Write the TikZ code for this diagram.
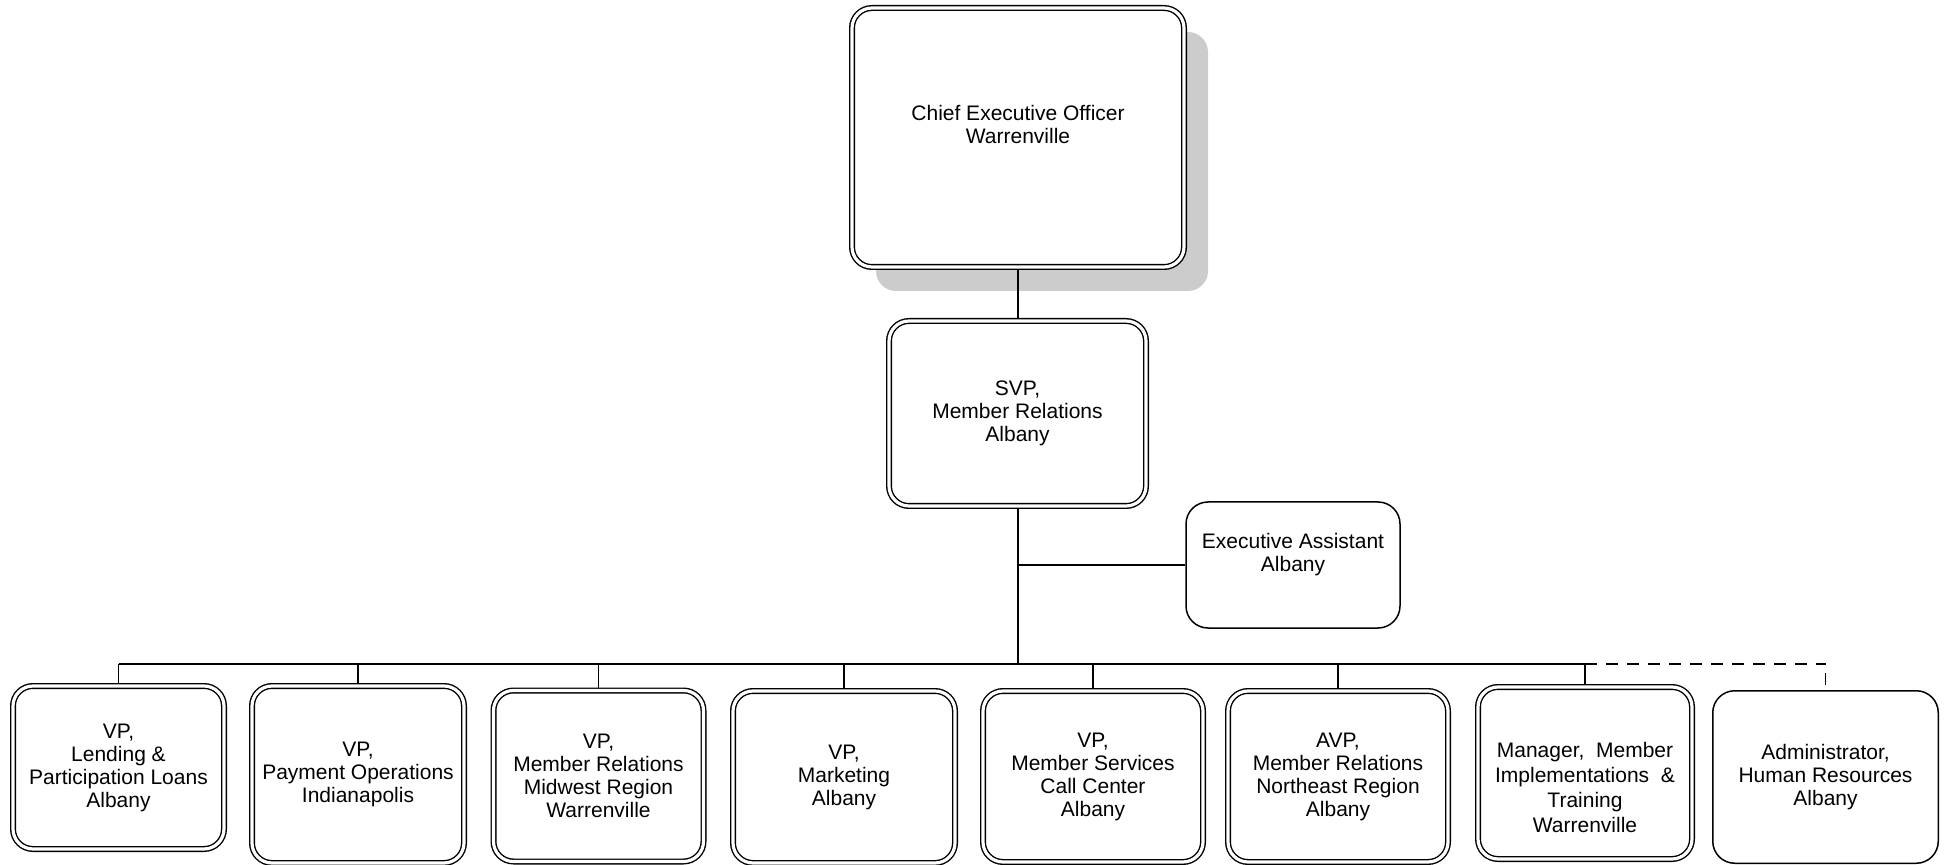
\documentclass[tikz,border=0pt]{standalone}
\usepackage{fontspec}
\setmainfont{Liberation Sans}
\usetikzlibrary{shadows}
\tikzstyle{officer} = [rectangle, rounded corners=10pt, draw=black, line width=0.7pt, double, double distance=1.6pt, fill=white, outer sep=1.5pt, inner sep=2pt, align=center, font=\fontsize{10.5}{11.5}\selectfont]
\tikzstyle{staff} = [rectangle, rounded corners=11pt, draw=black, line width=0.75pt, fill=white, inner sep=2pt, align=center, font=\fontsize{10.5}{11.5}\selectfont]
\tikzstyle{link} = [line width=0.75pt]
\tikzstyle{trunk} = [line width=1pt]
\tikzstyle{dashlink} = [line width=0.75pt, dash pattern=on 6pt off 4.5pt]

\begin{document}
\begin{tikzpicture}[x=0.5pt, y=-0.5pt]
\useasboundingbox (0,0) rectangle (1948,865);

\node (ceo) [officer, minimum width=166pt, minimum height=129.5pt, text depth=13pt, drop shadow={shadow xshift=12pt, shadow yshift=-12pt, fill=black!20, opacity=1}] at (1018,137.5) {Chief Executive Officer\\Warrenville};
\node (svp) [officer, minimum width=128.5pt, minimum height=92.5pt] at (1017.5,413.5) {SVP,\\Member Relations\\Albany};
\node (assist) [staff, minimum width=107pt, minimum height=63pt, text depth=12.5pt] at (1293,565) {Executive Assistant\\Albany};

\node (lending) [officer, minimum width=105.5pt, minimum height=81.5pt] at (118.5,767.5) {VP,\\Lending \&\\Participation Loans\\Albany};
\node (payment) [officer, minimum width=106pt, minimum height=88.5pt] at (358,774.5) {VP,\\Payment Operations\\Indianapolis};
\node (midwest) [officer, minimum width=105pt, minimum height=85.5pt] at (598.5,776) {VP,\\Member Relations\\Midwest Region\\Warrenville};
\node (marketing) [officer, minimum width=111pt, minimum height=86pt] at (844,777) {VP,\\Marketing\\Albany};
\node (callcenter) [officer, minimum width=110pt, minimum height=85.5pt] at (1093,776.5) {VP,\\Member Services\\Call Center\\Albany};
\node (northeast) [officer, minimum width=110pt, minimum height=85.5pt] at (1338,776.5) {AVP,\\Member Relations\\Northeast Region\\Albany};
\node (training) [officer, minimum width=107pt, minimum height=86pt, text height=60pt, font=\fontsize{10.5}{12.5}\selectfont] at (1585,773) {Manager,~ Member\\Implementations~ \&\\Training\\Warrenville};
\node (hr) [staff, minimum width=112.75pt, minimum height=86.25pt] at (1825.5,777) {Administrator,\\Human Resources\\Albany};

\coordinate (bar) at (1018,664);

\draw [link] (ceo.south) -- (ceo.south |- svp.north);
\draw [trunk] (svp.south) -- (svp.south |- bar);
\draw [link] (svp.south |- assist.west) -- (assist.west);
\draw [trunk] (lending.north |- bar) -- (training.north |- bar);
\foreach \n in {lending, payment, midwest, marketing, callcenter, northeast, training}
  \draw [link] (\n.north |- bar) -- (\n.north);
\draw [dashlink] (training.north |- bar) -- (hr.north |- bar);
\draw [dashlink, dash phase=6pt] (hr.north |- bar) -- (hr.north);

\end{tikzpicture}
\end{document}
